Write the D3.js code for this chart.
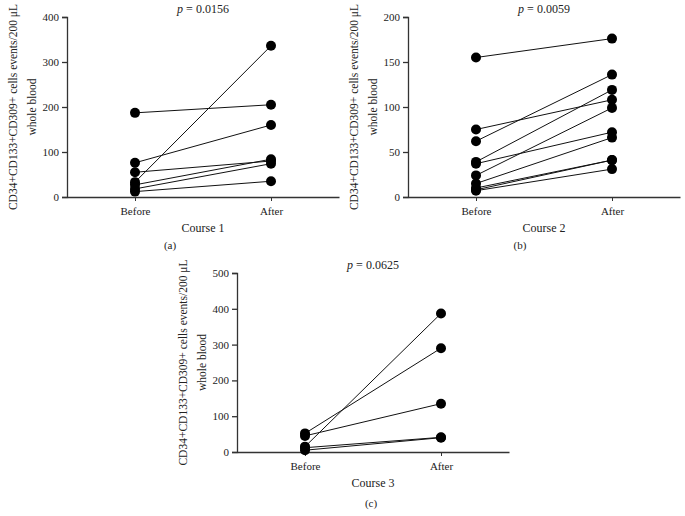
<!DOCTYPE html>
<html>
<head>
<meta charset="utf-8">
<script src="https://cdn.jsdelivr.net/npm/d3@7/dist/d3.min.js"></script>
<style>
  body { margin: 0; background: #fff; }
  svg { display: block; }
  text { font-family: "Liberation Serif", "DejaVu Serif", serif; fill: #222; }
</style>
</head>
<body>
<svg id="chart" width="685" height="516"></svg>
<script>
const categories = ["Before", "After"];
const yLabelLines = ["CD34+CD133+CD309+ cells events/200 \u03bcL", "whole blood"];

// Course 1 pairs
const course1Before = [187, 76, 55, 33, 27, 18, 12];
const course1After  = [205, 160, 80, 336, 84, 74, 35];
const course1Ticks  = [0, 100, 200, 300, 400];

// Course 2 pairs
const course2Before = [155, 75, 62, 39, 37, 24, 15, 10, 8, 7];
const course2After  = [176, 108, 136, 119, 72, 99, 66, 41, 41, 31];
const course2Ticks  = [0, 50, 100, 150, 200];

// Course 3 pairs
const course3Before = [52, 45, 15, 12, 5];
const course3After  = [290, 135, 387, 41, 40];
const course3Ticks  = [0, 100, 200, 300, 400, 500];

const pValues = ["0.0156", "0.0059", "0.0625"];
const courseTitles = ["Course 1", "Course 2", "Course 3"];
const panelLetters = ["(a)", "(b)", "(c)"];

const svg = d3.select("#chart");

const panels = [
  { before: course1Before, after: course1After, ticks: course1Ticks, p: pValues[0], title: courseTitles[0], letter: panelLetters[0],
    x0: 67, top: 17, bottom: 197, letterX: 170, letterY: 249 },
  { before: course2Before, after: course2After, ticks: course2Ticks, p: pValues[1], title: courseTitles[1], letter: panelLetters[1],
    x0: 408, top: 17, bottom: 197, letterX: 520, letterY: 249 },
  { before: course3Before, after: course3After, ticks: course3Ticks, p: pValues[2], title: courseTitles[2], letter: panelLetters[2],
    x0: 237, top: 273, bottom: 452, letterX: 371, letterY: 507 }
];

const W = 272;

panels.forEach(pn => {
  const g = svg.append("g").attr("transform", `translate(${pn.x0},0)`);
  const x = d3.scalePoint().domain(categories).range([0, W]).padding(0.5);
  const y = d3.scaleLinear().domain([0, d3.max(pn.ticks)]).range([pn.bottom, pn.top]);

  // y axis
  const ya = g.append("g").call(d3.axisLeft(y).tickValues(pn.ticks).tickSize(5).tickPadding(3).tickFormat(d3.format("d")));
  ya.select(".domain").attr("stroke", "#333").attr("stroke-width", 1.3);
  ya.selectAll(".tick line").attr("stroke", "#333").attr("stroke-width", 1.3);
  ya.selectAll("text").style("font-family", "Liberation Serif, serif").style("font-size", "11px").attr("fill", "#222");

  // x axis
  const xa = g.append("g").attr("transform", `translate(0,${pn.bottom})`)
    .call(d3.axisBottom(x).tickSize(4).tickSizeOuter(0).tickPadding(6));
  xa.select(".domain").attr("stroke", "#333").attr("stroke-width", 1.3);
  xa.selectAll(".tick line").attr("stroke", "#333").attr("stroke-width", 1);
  xa.selectAll("text").style("font-family", "Liberation Serif, serif").style("font-size", "11px").attr("fill", "#222");

  // pair lines
  const pairs = pn.before.map((b, i) => [b, pn.after[i]]);
  g.append("g").selectAll("line").data(pairs).join("line")
    .attr("x1", x("Before")).attr("x2", x("After"))
    .attr("y1", d => y(d[0])).attr("y2", d => y(d[1]))
    .attr("stroke", "#111").attr("stroke-width", 1);

  // points
  const pts = [];
  pn.before.forEach(v => pts.push(["Before", v]));
  pn.after.forEach(v => pts.push(["After", v]));
  g.append("g").selectAll("circle").data(pts).join("circle")
    .attr("cx", d => x(d[0])).attr("cy", d => y(d[1])).attr("r", 5).attr("fill", "#000");

  // p value
  const pt = g.append("text").attr("x", W / 2).attr("y", pn.top - 4).attr("text-anchor", "middle").style("font-size", "12px");
  pt.append("tspan").attr("font-style", "italic").text("p");
  pt.append("tspan").text(" = " + pn.p);

  // x title
  g.append("text").attr("x", W / 2).attr("y", pn.bottom + 35).attr("text-anchor", "middle").style("font-size", "12px").text(pn.title);

  // y label
  const cy = (pn.top + pn.bottom) / 2;
  yLabelLines.forEach((t, i) => {
    g.append("text").attr("transform", `translate(${-50 + i * 19},${cy}) rotate(-90)`)
      .attr("text-anchor", "middle").style("font-size", "11.5px").text(t);
  });

  // letter
  svg.append("text").attr("x", pn.letterX).attr("y", pn.letterY).attr("text-anchor", "middle").style("font-size", "11px").text(pn.letter);
});
</script>
</body>
</html>
